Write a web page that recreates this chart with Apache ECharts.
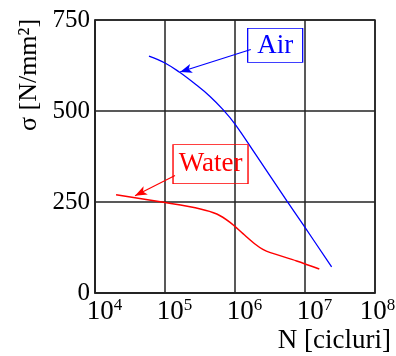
<!DOCTYPE html>
<html>
<head>
<meta charset="utf-8">
<script src="https://cdn.jsdelivr.net/npm/echarts@6/dist/echarts.min.js"></script>
<style>
  html, body { margin: 0; padding: 0; background: #fff; }
  #chart { width: 396px; height: 356px; }
</style>
</head>
<body>
<div id="chart"></div>
<script>
// cycles N and stress [N/mm2]
const airN = [5.9e4, 1.0e5, 1.6e5, 2.7e5, 4.4e5, 6.8e5, 1.0e6, 1.95e6, 5.5e6, 1.0e7, 2.4e7];
const airS = [651, 632, 607, 574, 540, 503, 464, 382, 253, 180, 72];
const waterN = [2.0e4, 9.5e4, 3.2e5, 5.5e5, 8.5e5, 1.3e6, 1.95e6, 2.5e6, 3.2e6, 7.6e6, 1.6e7];
const waterS = [270, 249, 231, 217, 194, 163, 134, 120, 111, 88, 66];
const yTicks = [0, 250, 500, 750];

// annotation anchors, in data units
const airLabelAt = [3.75e6, 680];
const airArrow = [[1.68e6, 669], [1.64e5, 607]];
const waterLabelAt = [4.47e5, 354];
const waterArrow = [[1.39e5, 323], [3.73e4, 267]];

const serif = "Liberation Serif";
const zip = (xs, ys) => xs.map((x, i) => [x, ys[i]]);

var myChart = echarts.init(document.getElementById("chart"));

function arrowLine(pts, color) {
  return {
    silent: true,
    symbol: ["none", "arrow"],
    symbolSize: [7, 12],
    label: { show: false },
    lineStyle: { color: color, width: 1.2, type: "solid" },
    data: [[{ coord: pts[0] }, { coord: pts[1] }]],
  };
}

function boxLabel(at, text, color, size) {
  return {
    silent: true,
    symbol: "rect",
    symbolSize: size,
    itemStyle: { color: "rgba(255,255,255,0)", borderColor: color, borderWidth: 1 },
    label: {
      show: true,
      position: "inside",
      formatter: text,
      color: color,
      fontFamily: serif,
      fontSize: 27,
    },
    data: [{ coord: at }],
  };
}

var option = {
  animation: false,
  grid: {
    left: 95,
    right: 21,
    top: 20,
    bottom: 63,
    containLabel: false,
    outerBoundsMode: "none",
    show: true,
    borderColor: "#222",
    borderWidth: 1.5,
  },
  xAxis: {
    type: "log",
    logBase: 10,
    min: 1e4,
    max: 1e8,
    axisLine: { lineStyle: { color: "#222", width: 1.5 } },
    axisTick: { show: false },
    splitLine: { show: true, lineStyle: { color: "#222", width: 1.5 } },
    axisLabel: {
      margin: 4,
      formatter: function (v) {
        var e = Math.round(Math.log10(v));
        // the last label sits closer to its tick so it stays inside the page
        var pad = e === 8 ? "q" : "p";
        return "{" + pad + "| }{b|10}{s|" + e + "}";
      },
      rich: {
        p: { width: 19, fontSize: 10 },
        q: { width: 5, fontSize: 10 },
        b: { fontFamily: serif, fontSize: 27, lineHeight: 30, color: "#000" },
        s: { fontFamily: serif, fontSize: 17, lineHeight: 16, verticalAlign: "top", color: "#000" },
      },
    },
  },
  yAxis: {
    type: "value",
    min: yTicks[0],
    max: yTicks[yTicks.length - 1],
    interval: yTicks[1] - yTicks[0],
    axisLine: { show: true, lineStyle: { color: "#222", width: 1.5 } },
    axisTick: { show: false },
    splitLine: { show: true, lineStyle: { color: "#222", width: 1.5 } },
    axisLabel: {
      margin: 5,
      fontFamily: serif,
      fontSize: 25,
      color: "#000",
    },
  },
  graphic: [
    {
      type: "text",
      x: 29,
      y: 75,
      rotation: Math.PI / 2,
      style: {
        text: "σ [N/mm²]",
        font: "26px " + serif,
        fill: "#000",
        align: "center",
        verticalAlign: "middle",
      },
    },
    {
      type: "text",
      x: 391,
      y: 341,
      style: {
        text: "N [cicluri]",
        font: "27px " + serif,
        fill: "#000",
        align: "right",
        verticalAlign: "middle",
      },
    },
  ],
  series: [
    {
      name: "Air",
      type: "line",
      smooth: 0.4,
      showSymbol: false,
      lineStyle: { color: "#0000ff", width: 1.3 },
      data: zip(airN, airS),
      markLine: arrowLine(airArrow, "#0000ff"),
      markPoint: boxLabel(airLabelAt, "Air", "#0000ff", [55, 34]),
    },
    {
      name: "Water",
      type: "line",
      smooth: 0.3,
      showSymbol: false,
      lineStyle: { color: "#ff0000", width: 1.5 },
      data: zip(waterN, waterS),
      markLine: arrowLine(waterArrow, "#ff0000"),
      markPoint: boxLabel(waterLabelAt, "Water", "#ff0000", [75, 39]),
    },
  ],
};
myChart.setOption(option);
</script>
</body>
</html>
